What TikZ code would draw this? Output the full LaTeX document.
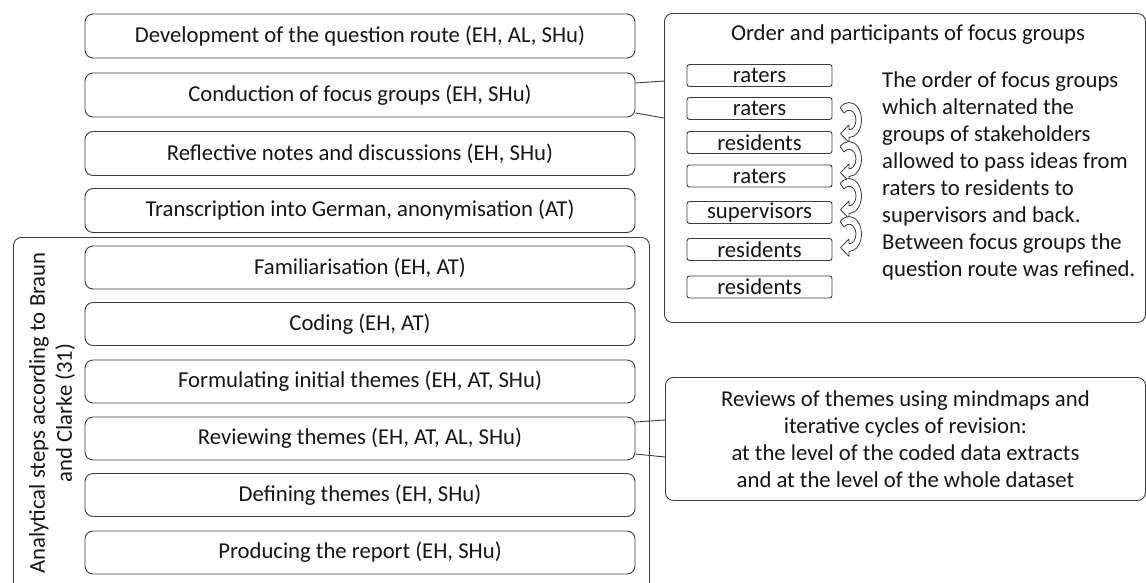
\documentclass[tikz,border=0pt]{standalone}
\usepackage{fontspec}
\setmainfont{Carlito}
\usetikzlibrary{calc}
\definecolor{lin}{RGB}{60,60,60}
\definecolor{txt}{RGB}{22,22,22}
\begin{document}
\begin{tikzpicture}[x=1pt,y=-1pt,
  every node/.style={text=txt, font=\fontsize{22.7}{27}\selectfont},
  box/.style={draw=lin, line width=0.9pt, rounded corners=8pt, minimum width=550pt, minimum height=44pt, inner sep=0pt},
  abox/.style={box, minimum height=43pt},
  sbox/.style={draw=lin, line width=0.9pt, rounded corners=2.5pt, minimum width=145pt, minimum height=22pt, inner sep=0pt},
  conn/.style={draw=lin, line width=0.9pt},
  harrow/.style={draw=lin, fill=white, line width=0.8pt, line join=round}]
\useasboundingbox (0,0) rectangle (1146,582);
\fill[white] (0,0) rectangle (1146,582);

% top process boxes
\node[box] (b1) at (360,36) {Development of the question route (EH, AL, SHu)};
\node[box] (b2) at (360,95) {Conduction of focus groups (EH, SHu)};
\node[box] (b3) at (360,153.5) {Reflective notes and discussions (EH, SHu)};
\node[box] (b4) at (360,210.5) {Transcription into German, anonymisation (AT)};

% frame of analytical steps
\node[draw=lin, line width=0.9pt, rounded corners=8pt, minimum width=636pt, minimum height=363pt, inner sep=0pt, anchor=north west] (frame) at (13,237) {};
\node[rotate=90, align=center, inner sep=0pt] (lbl) at (52,413) {Analytical steps according to Braun\\and Clarke (31)};

\node[abox] (a1) at (360,267.5) {Familiarisation (EH, AT)};
\node[abox] (a2) at (360,324) {Coding (EH, AT)};
\node[abox] (a3) at (360,381.5) {Formulating initial themes (EH, AT, SHu)};
\node[abox] (a4) at (360,438.5) {Reviewing themes (EH, AT, AL, SHu)};
\node[abox] (a5) at (360,495) {Defining themes (EH, SHu)};
\node[abox] (a6) at (360,552.5) {Producing the report (EH, SHu)};

% order box
\node[box, minimum width=481pt, minimum height=309pt, anchor=north west] (order) at (664,13) {};
\node (otitle) at (908,35) {Order and participants of focus groups};
\node[sbox] (s1) at (759.5,75.5) {raters};
\node[sbox] (s2) at (759.5,108.5) {raters};
\node[sbox] (s3) at (759.5,142.5) {residents};
\node[sbox] (s4) at (759.5,176) {raters};
\node[sbox] (s5) at (759.5,212.5) {supervisors};
\node[sbox] (s6) at (759.5,249.5) {residents};
\node[sbox] (s7) at (759.5,287) {residents};
\node[anchor=north west, align=left, inner sep=0pt] (para) at (882,72) {The order of focus groups\\which alternated the\\groups of stakeholders\\allowed to pass ideas from\\raters to residents to\\supervisors and back.\\Between focus groups the\\question route was refined.};

\foreach \cy in {120,159,196,234}{
  \begin{scope}[shift={(849,\cy)}, yscale=1.4]
    \draw[harrow] (-135:12.5) arc[start angle=-135, end angle=90, radius=12.5] -- (0,16) -- (-8.5,9.75) -- (0,3.5) -- (0,7) arc[start angle=90, end angle=-135, radius=7] -- cycle;
  \end{scope}
}

% reviews box
\node[box, minimum width=480pt, minimum height=123pt, anchor=north west, align=center] (rev) at (665,377) {Reviews of themes using mindmaps and\\iterative cycles of revision:\\at the level of the coded data extracts\\and at the level of the whole dataset};

% connectors
\draw[conn] ($(b2.east)+(0,-12)$) -- ($(order.north west)+(0,68)$);
\draw[conn] ($(b2.east)+(0,18)$) -- ($(order.north west)+(0,105)$);
\draw[conn] ($(a4.east)+(0,-16.5)$) -- ($(rev.north west)+(0,43)$);
\draw[conn] ($(a4.east)+(0,15.5)$) -- ($(rev.north west)+(0,80)$);
\end{tikzpicture}
\end{document}
